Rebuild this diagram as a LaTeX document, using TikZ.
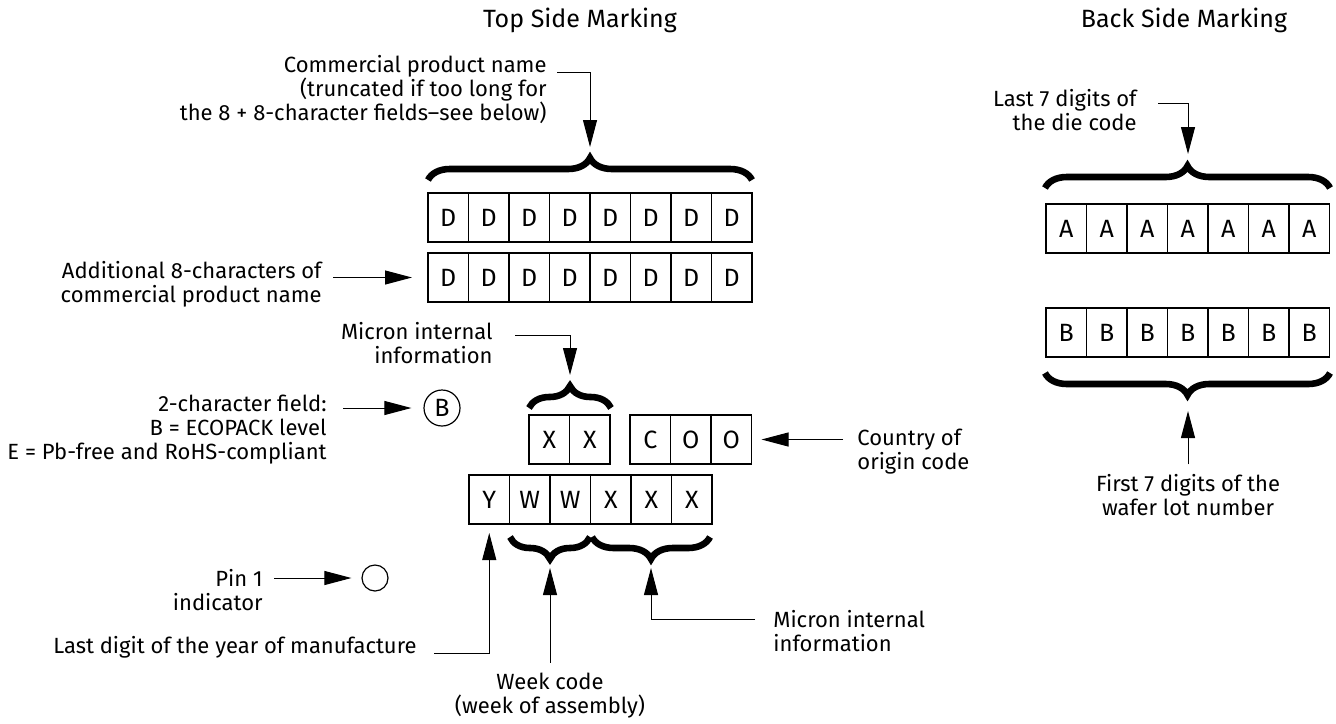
\documentclass[tikz,border=0pt]{standalone}
\usepackage{fontspec}
\setmainfont{Fira Sans}
\usetikzlibrary{positioning,arrows.meta,decorations.pathreplacing}

\begin{document}
\begin{tikzpicture}[x=0.5pt,y=-0.5pt,font=\fontsize{11}{12}\selectfont]
	\tikzset{cell/.style = {shape=rectangle,draw,line width=0.6pt,minimum width=20.25pt,minimum height=24.5pt,inner sep=0pt,outer sep=0pt,font=\fontsize{12.5}{14}\selectfont}}
	\tikzset{note/.style = {inner sep=0pt}}
	\tikzset{title/.style = {font=\fontsize{12.5}{14}\selectfont}}
	\tikzset{arr/.style = {-{Triangle[length=13.5pt,width=7pt]},line width=0.5pt}}
	\tikzset{curly/.style = {decorate,decoration={brace,amplitude=11pt},line width=3.3pt}}
	\useasboundingbox (0,0) rectangle (1336,723);
	% titles
	\node[title] (tsm) at (580,20) {Top Side Marking};
	\node[title] (bsm) at (1184,20) {Back Side Marking};
	% top side, product name rows
	\node[cell] (dt1) at (448.25,217.5) {D};
	\node[cell,right=0pt of dt1] (dt2) {D};
	\node[cell,right=0pt of dt2] (dt3) {D};
	\node[cell,right=0pt of dt3] (dt4) {D};
	\node[cell,right=0pt of dt4] (dt5) {D};
	\node[cell,right=0pt of dt5] (dt6) {D};
	\node[cell,right=0pt of dt6] (dt7) {D};
	\node[cell,right=0pt of dt7] (dt8) {D};
	\node[cell] (db1) at (448.25,277.5) {D};
	\node[cell,right=0pt of db1] (db2) {D};
	\node[cell,right=0pt of db2] (db3) {D};
	\node[cell,right=0pt of db3] (db4) {D};
	\node[cell,right=0pt of db4] (db5) {D};
	\node[cell,right=0pt of db5] (db6) {D};
	\node[cell,right=0pt of db6] (db7) {D};
	\node[cell,right=0pt of db7] (db8) {D};
	% internal info and country of origin
	\node[cell] (xx1) at (549.25,439.5) {X};
	\node[cell,right=0pt of xx1] (xx2) {X};
	\node[cell] (coo1) at (650.25,439.5) {C};
	\node[cell,right=0pt of coo1] (coo2) {O};
	\node[cell,right=0pt of coo2] (coo3) {O};
	% year, week, lot
	\node[cell] (yr) at (489.25,499.5) {Y};
	\node[cell,right=0pt of yr] (wk1) {W};
	\node[cell,right=0pt of wk1] (wk2) {W};
	\node[cell,right=0pt of wk2] (xa) {X};
	\node[cell,right=0pt of xa] (xb) {X};
	\node[cell,right=0pt of xb] (xc) {X};
	% markers
	\node[circle,draw,line width=0.6pt,minimum size=18pt,inner sep=0pt,font=\fontsize{12.5}{14}\selectfont] (eco) at (442,408) {B};
	\node[circle,draw,line width=0.6pt,minimum size=13pt,inner sep=0pt] (pin) at (375,578) {};
	% back side rows
	\node[cell] (aa1) at (1066.25,228.5) {A};
	\node[cell,right=0pt of aa1] (aa2) {A};
	\node[cell,right=0pt of aa2] (aa3) {A};
	\node[cell,right=0pt of aa3] (aa4) {A};
	\node[cell,right=0pt of aa4] (aa5) {A};
	\node[cell,right=0pt of aa5] (aa6) {A};
	\node[cell,right=0pt of aa6] (aa7) {A};
	\node[cell] (bb1) at (1066.25,332.5) {B};
	\node[cell,right=0pt of bb1] (bb2) {B};
	\node[cell,right=0pt of bb2] (bb3) {B};
	\node[cell,right=0pt of bb3] (bb4) {B};
	\node[cell,right=0pt of bb4] (bb5) {B};
	\node[cell,right=0pt of bb5] (bb6) {B};
	\node[cell,right=0pt of bb6] (bb7) {B};
	% labels
	\node[note,align=right,anchor=east] (cpn) at (547,90) {Commercial product name\\(truncated if too long for\\the 8 + 8-character fields–see below)};
	\node[note,align=right,anchor=east] (add) at (322,284) {Additional 8-characters of\\commercial product name};
	\node[note,align=right,anchor=east] (mia) at (493,343) {Micron internal\\information};
	\node[note,align=right,anchor=east] (fld) at (327,430) {2-character field:\\B = ECOPACK level\\E = Pb-free and RoHS-compliant};
	\node[note,align=left,anchor=west] (cty) at (857,451.5) {Country of\\origin code};
	\node[note,align=right,anchor=east] (pin1) at (263,590) {Pin 1\\indicator};
	\node[note,anchor=east] (ldy) at (417,647) {Last digit of the year of manufacture};
	\node[note,align=center] (wkc) at (550,695.5) {Week code\\(week of assembly)};
	\node[note,align=left,anchor=west] (mib) at (773,631.5) {Micron internal\\information};
	\node[note,align=right,anchor=east] (die) at (1137,110.5) {Last 7 digits of\\the die code};
	\node[note,align=center] (waf) at (1188,495.5) {First 7 digits of the\\wafer lot number};
	% braces
	\draw[curly] (428,180) -- (752,180);
	\draw[curly] (529,408) -- (611,408);
	\draw[curly] (590,537) -- (510,537);
	\draw[curly] (710,537) -- (592,537);
	\draw[curly] (1045,188) -- (1330,188);
	\draw[curly] (1330,373) -- (1045,373);
	\coordinate (toptip) at (590,158);
	\coordinate (xxtip) at (570,385);
	\coordinate (wwtip) at (550,559);
	\coordinate (xxxtip) at (651,559);
	\coordinate (atip) at (1188,166);
	\coordinate (btip) at (1188,395);
	\coordinate (cpnend) at (557,72);
	\coordinate (miaend) at (515,335);
	\coordinate (ldyend) at (434,653);
	\coordinate (mibend) at (755,619);
	\coordinate (dieend) at (1158,103);
	% connectors
	\draw[arr,shorten >=5.5pt] (cpnend) -| (toptip);
	\draw[arr,shorten <=5.5pt,shorten >=8pt] (add.east |- db1.west) -- (db1.west);
	\draw[arr,shorten >=5pt] (miaend) -| (xxtip);
	\draw[arr,shorten <=8pt,shorten >=6pt] (fld.east |- eco.west) -- (eco.west);
	\draw[arr,shorten <=7pt,shorten >=5pt] (cty.west |- coo3.east) -- (coo3.east);
	\draw[arr,shorten <=5.5pt,shorten >=5pt] (pin1.east |- pin.west) -- (pin.west);
	\draw[arr,shorten >=4.5pt] (ldyend) -| (yr.south);
	\draw[arr,shorten <=5pt,shorten >=4.5pt] (wkc.north) -- (wwtip);
	\draw[arr,shorten >=4.5pt] (mibend) -| (xxxtip);
	\draw[arr,shorten >=6pt] (dieend) -| (atip);
	\draw[arr,shorten <=5pt,shorten >=8pt] (waf.north) -- (btip);
\end{tikzpicture}
\end{document}
